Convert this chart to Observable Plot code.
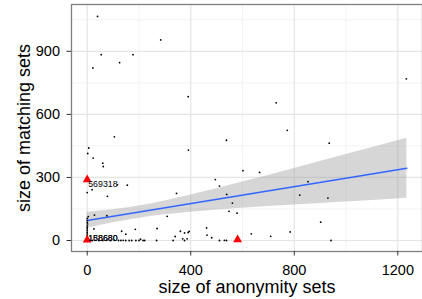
<!DOCTYPE html>
<html>
<head>
<meta charset="utf-8">
<script src="https://cdn.jsdelivr.net/npm/d3@7"></script>
<script src="https://cdn.jsdelivr.net/npm/@observablehq/plot@0.6"></script>
<style>
  html, body { margin: 0; padding: 0; background: white; }
</style>
</head>
<body>
<div id="chart"></div>
<script>
// Major / minor ticks
const xTicks = [0, 400, 800, 1200];
const yTicks = [0, 300, 600, 900];
const xMinor = [200, 600, 1000];
const yMinor = [150, 450, 750, 1050];

// Scatter points (anonymity set size, matching set size)
const ptX = [40, 22, 54, 125, 177, 105, 6, 284, 390, 730, 538, 391, 1233, 773, 935,
  2, 23, 60, 62, 117, 155, 0, 19, 78, 28, 76, 4,
  0, 1, 0, 1, 0, 0, 0, 0, 0, 0, 0, 0, 0, 2, 3, 10, 20, 30, 45, 60, 75, 90, 105, 26,
  133, 149, 186, 206, 216, 121, 130, 139, 149, 162, 172, 188, 200, 222, 268, 270, 309, 345,
  340, 332, 360, 369, 376, 376, 386, 390, 394, 461, 463, 481, 495, 511, 511, 530, 538,
  539, 548, 561, 579, 602, 634, 666, 709,
  853, 821, 930, 902, 784, 942];
const ptY = [1066, 821, 884, 846, 884, 493, 440, 954, 684, 655, 477, 430, 769, 524, 463,
  414, 392, 368, 352, 265, 263, 228, 242, 210, 121, 118, 114,
  105, 95, 86, 79, 70, 62, 55, 47, 39, 32, 24, 16, 10, 6, 2, 0, 0, 1, 0, 0, 1, 0, 1, 55,
  44, 30, 53, 6, 0, 0, 0, 1, 0, 0, 0, 0, 0, 0, 0, 57, 115, 224,
  19, 0, 44, 8, 36, 0, 8, 38, 43, 60, 26, 13, 290, 259, 0, 1, 0,
  219, 139, 178, 130, 332, 32, 324, 20,
  280, 216, 202, 87, 41, 0];

// Highlighted points (red triangles)
const triX = [0, 0, 581];
const triY = [289, 3, 4];

// Labels
const labText = ["569318", "188680", "158680"];
const labX = [0, 0, 0];
const labY = [270, 13, 13];

// Linear fit and 95% band
const fitX = [0, 1235];
const fitY = [95, 344];
const bandX = [0, 100, 200, 300, 400, 600, 800, 1000, 1235];
const bandLo = [58, 84, 106, 122, 135, 154, 169, 183, 201];
const bandHi = [135, 146, 164, 188, 216, 278, 343, 409, 487];

const points = ptX.map((x, i) => ({x, y: ptY[i]}));
const tris = triX.map((x, i) => ({x, y: triY[i]}));
const labels = labText.map((t, i) => ({text: t, x: labX[i], y: labY[i]}));
const fit = fitX.map((x, i) => ({x, y: fitY[i]}));
const band = bandX.map((x, i) => ({x, lo: bandLo[i], hi: bandHi[i]}));

const font = "'Liberation Sans', Arial, Helvetica, sans-serif";

const chart = Plot.plot({
  width: 422,
  height: 299,
  marginLeft: 71,
  marginRight: 0,
  marginTop: 4,
  marginBottom: 48,
  style: {fontFamily: font, background: "white", color: "black"},
  x: {domain: [-60.7, 1295.4]},
  y: {domain: [-52.3, 1122.7]},
  marks: [
    Plot.ruleX(xMinor, {stroke: "#f3f3f3", strokeWidth: 1}),
    Plot.ruleY(yMinor, {stroke: "#f3f3f3", strokeWidth: 1}),
    Plot.ruleX(xTicks, {stroke: "#e5e5e5", strokeWidth: 1.2}),
    Plot.ruleY(yTicks, {stroke: "#e5e5e5", strokeWidth: 1.2}),
    Plot.areaY(band, {x: "x", y1: "lo", y2: "hi", fill: "#999999", fillOpacity: 0.4, curve: "monotone-x"}),
    Plot.line(fit, {x: "x", y: "y", stroke: "#3366FF", strokeWidth: 1.5}),
    Plot.dot(points, {x: "x", y: "y", r: 0.9, fill: "black", stroke: null}),
    Plot.dot(tris, {x: "x", y: "y", symbol: "triangle", r: 3.3, fill: "#ff0000", stroke: null}),
    Plot.text(labels, {x: "x", y: "y", text: "text", textAnchor: "start", dx: 1, fontSize: 8.8, fill: "black"}),
    Plot.frame({stroke: "#7f7f7f", strokeWidth: 1.3}),
    Plot.axisX(xTicks, {tickSize: 4.5, tickPadding: 8.5, fontSize: 14.5, label: null, tickFormat: d => String(d), stroke: "#333333", fill: "black"}),
    Plot.axisY(yTicks, {tickSize: 4.5, tickPadding: 7, fontSize: 14.5, label: null, tickFormat: d => String(d), stroke: "#333333", fill: "black"}),
    Plot.text(["size of anonymity sets"], {frameAnchor: "bottom", textAnchor: "middle", lineAnchor: "bottom", dy: 41, fontSize: 18, fill: "black"}),
    Plot.text(["size of matching sets"], {frameAnchor: "left", textAnchor: "middle", rotate: -90, lineAnchor: "bottom", dx: -41.5, fontSize: 18, fill: "black"})
  ]
});
document.getElementById("chart").appendChild(chart);
</script>
</body>
</html>
